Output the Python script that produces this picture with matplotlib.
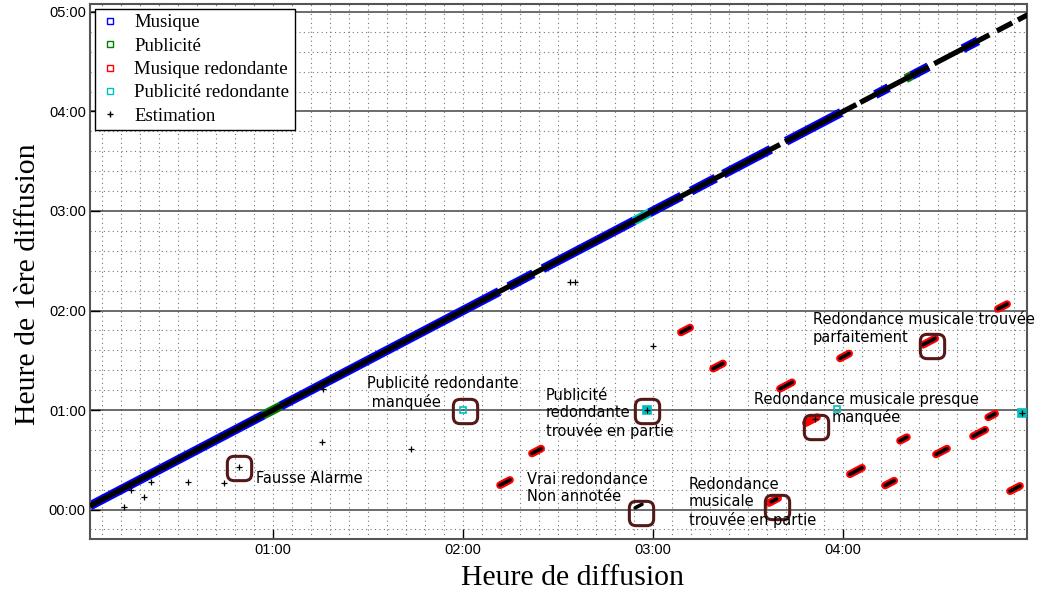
import matplotlib
matplotlib.use("Agg")
import matplotlib.pyplot as plt
from matplotlib.lines import Line2D
from matplotlib.patches import BoxStyle
from matplotlib.ticker import MultipleLocator, FuncFormatter

# Diagonale : segments de diffusion (heures)
musique_debut = [0.037, 1.04, 2.24, 2.42, 2.98, 3.20, 3.37, 3.70, 4.17, 4.36, 4.63]
musique_fin = [0.95, 2.19, 2.37, 2.90, 3.15, 3.33, 3.62, 3.99, 4.24, 4.45, 4.71]
pub_debut = [0.95, 4.33]
pub_fin = [1.04, 4.36]
pub_red_diag_debut = [2.90]
pub_red_diag_fin = [2.98]
estim_diag_debut = [0.037, 3.695, 4.09, 4.48, 4.81, 4.92]
estim_diag_fin = [3.668, 4.07, 4.45, 4.77, 4.89, 4.98]

# Musique redondante : (diffusion, 1ere diffusion) debut / fin
red_x0 = [4.815, 4.421, 3.984, 3.668, 3.805, 4.764, 4.300, 4.489, 4.684, 4.036, 4.221, 4.879, 3.610, 2.363, 2.195, 3.147, 3.316]
red_x1 = [4.863, 4.485, 4.032, 3.732, 3.863, 4.800, 4.336, 4.547, 4.748, 4.100, 4.269, 4.931, 3.658, 2.411, 2.247, 3.195, 3.368]
red_y0 = [2.016, 1.656, 1.519, 1.214, 0.870, 0.927, 0.691, 0.554, 0.737, 0.355, 0.242, 0.185, 0.066, 0.564, 0.245, 1.780, 1.416]
red_y1 = [2.064, 1.720, 1.567, 1.278, 0.928, 0.963, 0.727, 0.612, 0.801, 0.419, 0.290, 0.237, 0.114, 0.612, 0.297, 1.828, 1.468]

# Estimations hors diagonale (segments)
est_x0 = [4.815, 4.421, 3.984, 3.668, 4.764, 4.300, 4.489, 4.684, 4.036, 4.221, 4.879, 3.622, 2.363, 2.195, 3.147, 3.316, 2.906]
est_x1 = [4.863, 4.485, 4.032, 3.732, 4.800, 4.336, 4.547, 4.748, 4.100, 4.269, 4.931, 3.650, 2.411, 2.247, 3.195, 3.368, 2.942]
est_y0 = [2.016, 1.656, 1.519, 1.214, 0.927, 0.691, 0.554, 0.737, 0.355, 0.242, 0.185, 0.078, 0.564, 0.245, 1.780, 1.416, 0.017]
est_y1 = [2.064, 1.720, 1.567, 1.278, 0.963, 0.727, 0.612, 0.801, 0.419, 0.290, 0.237, 0.106, 0.612, 0.297, 1.828, 1.468, 0.053]

# Estimations isolees (points)
est_px = [0.216, 0.253, 0.321, 0.358, 0.553, 0.742, 0.821, 1.258, 1.263, 1.726, 2.563, 2.589, 3.00, 3.85, 2.968, 4.942]
est_py = [0.025, 0.196, 0.126, 0.276, 0.276, 0.266, 0.427, 0.678, 1.211, 0.608, 2.286, 2.286, 1.643, 0.91, 1.0, 0.97]

# Publicite redondante
pubred_x = [2.0, 2.968, 3.968, 4.942]
pubred_y = [1.0, 1.0, 1.01, 0.97]
pubred_trouvee = [False, True, False, True]

# Encadres et commentaires
box_x = [0.821, 2.01, 2.968, 2.937, 3.654, 3.86, 4.467]
box_y = [0.414, 0.99, 0.99, -0.03, 0.03, 0.83, 1.646]
notes = ["Fausse Alarme", "Publicité redondante\n manquée", "Publicité\nredondante\ntrouvée en partie",
         "Vrai redondance\nNon annotée", "Redondance\nmusicale\ntrouvée en partie",
         "Redondance musicale presque\nmanquée", "Redondance musicale trouvée\nparfaitement"]
notes_x = [0.911, 1.495, 2.437, 2.337, 3.189, 3.532, 3.842]
notes_y = [0.307, 1.171, 0.970, 0.216, 0.075, 1.015, 1.819]
notes_align = ["left", "left", "left", "left", "left", "center", "left"]

fig = plt.figure(figsize=(10.44, 5.94), dpi=100)
ax = fig.add_axes([90 / 1044, 1 - 539 / 594, 937 / 1044, 535 / 594])

# diagonale
for a, b in zip(musique_debut, musique_fin):
    ax.plot([a, b], [a, b], color="blue", lw=6.6, solid_capstyle="butt", zorder=2)
for a, b in zip(pub_debut, pub_fin):
    ax.plot([a, b], [a, b], color="green", lw=6.6, solid_capstyle="butt", zorder=2)
for a, b in zip(pub_red_diag_debut, pub_red_diag_fin):
    ax.plot([a, b], [a, b], color="c", lw=6.6, solid_capstyle="butt", zorder=2)
for a, b in zip(estim_diag_debut, estim_diag_fin):
    ax.plot([a, b], [a, b], color="black", lw=3.8, solid_capstyle="butt", zorder=4)

# redondances musicales
for a, b, c, d in zip(red_x0, red_x1, red_y0, red_y1):
    ax.plot([a, b], [c, d], color="red", lw=5.6, solid_capstyle="round", zorder=3)
for a, b, c, d in zip(est_x0, est_x1, est_y0, est_y1):
    ax.plot([a, b], [c, d], color="black", lw=2.6, solid_capstyle="round", zorder=4)

# publicites redondantes
for x, y, t in zip(pubred_x, pubred_y, pubred_trouvee):
    ax.plot(x, y, "s", ms=5.5 if t else 4, mfc="c" if t else "none", mec="c", mew=1.2, zorder=3)

ax.plot(est_px, est_py, "+", color="black", ms=5, mew=0.9, zorder=5)

# encadres arrondis
box_path = BoxStyle("round", pad=0, rounding_size=0.28)(-0.5, -0.5, 1, 1, 1.0)
ax.plot(box_x, box_y, ls="none", marker=box_path, ms=17.5, mfc="none", mec="#551818", mew=2.2, zorder=6)

for t, x, y, al in zip(notes, notes_x, notes_y, notes_align):
    ax.text(x, y, t, ha="left", va="center", multialignment=al, fontsize=10.5,
            family="DejaVu Sans", zorder=7)

ax.set_xlim(0.037, 4.968)
ax.set_ylim(-0.296, 5.08)

fmt = FuncFormatter(lambda v, p: "%02d:%02d" % (int(round(v * 60)) // 60, int(round(v * 60)) % 60))
ax.xaxis.set_major_locator(MultipleLocator(1))
ax.xaxis.set_minor_locator(MultipleLocator(0.1))
ax.yaxis.set_major_locator(MultipleLocator(1))
ax.yaxis.set_minor_locator(MultipleLocator(0.2))
ax.xaxis.set_major_formatter(fmt)
ax.yaxis.set_major_formatter(fmt)

ax.set_axisbelow(True)
ax.grid(which="minor", ls=(0, (1, 3)), color="#777777", lw=0.8)
ax.grid(which="major", axis="x", ls=(0, (1, 3)), color="#777777", lw=0.8)
ax.grid(which="major", axis="y", ls="-", color="#444444", lw=1.1)

ax.tick_params(which="major", direction="in", length=7, width=1, pad=3)
ax.tick_params(which="minor", length=0)
for lab in ax.get_xticklabels() + ax.get_yticklabels():
    lab.set_family("Liberation Sans")
    lab.set_fontsize(10.5)
for s in ax.spines.values():
    s.set_color("#555555")
    s.set_linewidth(1.5)

ax.set_xlabel("Heure de diffusion", family="Liberation Serif", fontsize=21.5)
ax.set_ylabel("Heure de 1ère diffusion", family="Liberation Serif", fontsize=21.5)
ax.xaxis.set_label_coords(0.515, -0.048)
ax.yaxis.set_label_coords(-0.052, 0.477)

handles = [
    Line2D([], [], ls="none", marker="s", ms=4.5, mfc="none", mec="blue", mew=1),
    Line2D([], [], ls="none", marker="s", ms=4.5, mfc="none", mec="green", mew=1),
    Line2D([], [], ls="none", marker="s", ms=4.5, mfc="none", mec="red", mew=1),
    Line2D([], [], ls="none", marker="s", ms=4.5, mfc="none", mec="c", mew=1),
    Line2D([], [], ls="none", marker="+", ms=5, color="black", mew=1),
]
labels = ["Musique", "Publicité", "Musique redondante", "Publicité redondante", "Estimation"]
leg = ax.legend(handles, labels, loc="upper left", prop={"family": "Liberation Serif", "size": 13.5},
                fancybox=False, framealpha=1, edgecolor="black", handlelength=1.0,
                handletextpad=0.8, labelspacing=0.33, borderaxespad=0.25, borderpad=0.3)
leg.get_frame().set_linewidth(1.0)
leg.set_zorder(10)

fig.savefig("out.png", dpi=100)
